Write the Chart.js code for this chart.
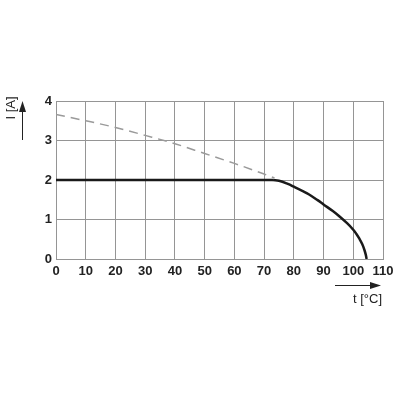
<!DOCTYPE html>
<html><head><meta charset="utf-8">
<script src="https://cdn.jsdelivr.net/npm/chart.js@4"></script>
<style>html,body{margin:0;padding:0;background:#fff}#wrap{width:400px;height:400px}</style>
</head><body><div id="wrap"><canvas id="c" width="400" height="400"></canvas></div>
<script>
const xTicks = [0,10,20,30,40,50,60,70,80,90,100,110];
const yTicks = [0,1,2,3,4];
const dashedT = [0,10,20,30,40,50,60,70,73.5];
const dashedI = [3.66,3.50,3.33,3.13,2.92,2.67,2.42,2.15,2.05];
const flatT = [0,73];
const flatI = [2,2];
const curveT = [73,75,78,80,83,85,88,90,93,95,98,100,101,102,103,103.7,104.2,104.5];
const curveI = [2,1.98,1.9,1.83,1.72,1.64,1.49,1.38,1.22,1.1,0.9,0.74,0.64,0.52,0.38,0.24,0.11,0];
const xTitle = 't [°C]';
const yTitle = 'I [A]';

const toPts = (xs, ys) => xs.map((x,i)=>({x, y: ys[i]}));

const titles = {
  id: 'titles',
  afterDraw(chart) {
    const ctx = chart.ctx;
    ctx.save();
    ctx.fillStyle = '#222'; ctx.strokeStyle = '#222'; ctx.lineWidth = 1;
    ctx.beginPath(); ctx.moveTo(335, 285.5); ctx.lineTo(372, 285.5); ctx.stroke();
    ctx.beginPath(); ctx.moveTo(381, 285.5); ctx.lineTo(370, 282); ctx.lineTo(370, 289); ctx.closePath(); ctx.fill();
    ctx.font = '13px "Liberation Sans", Arial, sans-serif';
    ctx.textAlign = 'right'; ctx.textBaseline = 'middle';
    ctx.fillText(xTitle, 382, 299);
    ctx.beginPath(); ctx.moveTo(22.5, 140); ctx.lineTo(22.5, 110); ctx.stroke();
    ctx.beginPath(); ctx.moveTo(22.5, 101); ctx.lineTo(19, 112); ctx.lineTo(26, 112); ctx.closePath(); ctx.fill();
    ctx.translate(11, 108); ctx.rotate(-Math.PI/2);
    ctx.textAlign = 'center'; ctx.textBaseline = 'middle';
    ctx.fillText(yTitle, 0, 0);
    ctx.restore();
  }
};

new Chart(document.getElementById('c'), {
  type: 'line',
  data: {
    datasets: [
      { data: toPts(dashedT, dashedI), borderColor: '#9a9a9a', borderWidth: 1.5, borderDash: [9,6], pointRadius: 0, cubicInterpolationMode: 'monotone', fill: false },
      { data: toPts(flatT, flatI), borderColor: '#1a1a1a', borderWidth: 2.5, pointRadius: 0, tension: 0, fill: false },
      { data: toPts(curveT, curveI), borderColor: '#1a1a1a', borderWidth: 2.5, pointRadius: 0, tension: 0.4, fill: false }
    ]
  },
  options: {
    responsive: false, animation: false, devicePixelRatio: 1,
    layout: { padding: { left: 0, top: 101, right: 17, bottom: 0 } },
    plugins: { legend: { display: false }, tooltip: { enabled: false } },
    scales: {
      x: {
        type: 'linear', min: 0, max: 110,
        afterBuildTicks: s => { s.ticks = xTicks.map(v => ({value: v})); },
        afterFit: s => { s.height = 141; },
        grid: { color: '#959595', lineWidth: 1, drawTicks: false },
        border: { color: '#959595', width: 1 },
        ticks: { color: '#222', font: { family: '"Liberation Sans", Arial, sans-serif', size: 13, weight: 'bold' }, padding: 5, maxRotation: 0, autoSkip: false }
      },
      y: {
        type: 'linear', min: 0, max: 4,
        afterBuildTicks: s => { s.ticks = yTicks.map(v => ({value: v})); },
        afterFit: s => { s.width = 56; },
        grid: { color: '#959595', lineWidth: 1, drawTicks: false },
        border: { color: '#959595', width: 1 },
        ticks: { color: '#222', font: { family: '"Liberation Sans", Arial, sans-serif', size: 13, weight: 'bold' }, padding: 4 }
      }
    }
  },
  plugins: [titles]
});
</script>
</body></html>
